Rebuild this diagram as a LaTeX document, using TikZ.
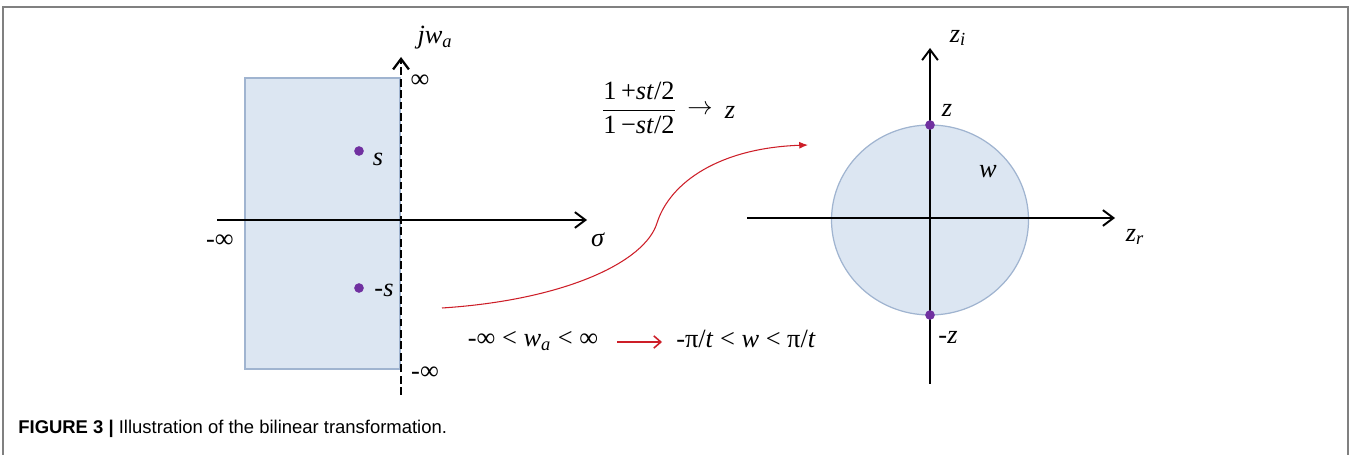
\documentclass[tikz,border=0pt]{standalone}
\usepackage{amssymb,amsmath}
\usepackage{fontspec}
\setmainfont{Liberation Serif}
\newfontfamily\capfont{Liberation Sans}
\usepackage{xcolor}
\usetikzlibrary{arrows.meta}
\usetikzlibrary{positioning}
\usetikzlibrary{calc}

\definecolor{planefill}{RGB}{220,230,242}
\definecolor{planeedge}{RGB}{160,180,208}
\definecolor{ptpurple}{RGB}{112,48,160}
\definecolor{mapred}{RGB}{205,30,40}
\definecolor{framegray}{RGB}{128,128,128}

\begin{document}
\begin{tikzpicture}[x=0.02cm,y=-0.02cm]
	\tikzstyle{every node}=[inner sep=1pt,font=\fontsize{15}{17}\selectfont]
	\tikzstyle{pt}=[circle,fill=ptpurple,minimum size=5.5pt,inner sep=0pt]
	\tikzstyle{axis}=[line width=1.1pt,-{Straight Barb[length=6pt,width=9pt]}]
	\useasboundingbox (0,0) rectangle (1351,455);
	
	% frame
	\draw[framegray,line width=1.2pt] (3,455) -- (3,7) -- (1348,7) -- (1348,455);
	
	% s-plane
	\draw[fill=planefill,draw=planeedge,line width=0.7pt] (245,78) rectangle (400,369);
	\coordinate (sl) at (217,220);
	\coordinate (sr) at (587,220);
	\coordinate (jb) at (401,395);
	\coordinate (jt) at (401,57);
	\draw[axis] (sl) -- (sr);
	\draw[axis,line width=1.3pt,dash pattern=on 4.5pt off 2pt] (jb) -- (jt);
	
	\node (jwa) at (435,38) {\textit{jw}\textsubscript{\textit{a}}};
	\node (pinf) at (420,81) {∞};
	\node (ninf) at (220,241) {-∞};
	\node (sig) at (598,240) {\textit{σ}};
	\node (minf) at (425,373) {-∞};
	
	\node[pt] (s) at (359,151) {};
	\node[pt] (ms) at (359,288) {};
	\node (slbl) at (378,159) {\textit{s}};
	\node (mslbl) at (384,290) {-\textit{s}};
	
	% mapping
	\coordinate (mapfrom) at (442,308);
	\coordinate (mapmid) at (657,223);
	\coordinate (mapto) at (808,145);
	\draw[mapred,line width=0.6pt,-{Latex[length=5pt,width=4pt]}]
		(mapfrom) .. controls (565,300) and (645,262) .. (mapmid)
		.. controls (670,182) and (720,148) .. (mapto);
	
	\node (frac) at (639,108) {$\dfrac{\mbox{1\,+\textit{st}/2}}{\mbox{1\,−\textit{st}/2}}$};
	\node (farr) at (700,110) {$\rightarrow$};
	\node (fz) at (730,112) {\textit{z}};
	
	\node[anchor=base] (wa) at (533,347) {-∞ < \textit{w}\textsubscript{\textit{a}} < ∞};
	\node[anchor=base] (wd) at (746,348) {-π/\textit{t} < \textit{w} < π/\textit{t}};
	\coordinate (ra) at (617,342);
	\coordinate (rb) at (662,342);
	\draw[mapred,line width=0.9pt,-{Straight Barb[length=4pt,width=7pt]}] (ra) -- (rb);
	
	% z-plane
	\draw[fill=planefill,draw=planeedge,line width=0.7pt] (930,220) ellipse [x radius=98.5, y radius=95];
	\coordinate (zl) at (747,218);
	\coordinate (zr) at (1115,218);
	\coordinate (zb) at (930,384);
	\coordinate (zt) at (930,48);
	\draw[axis] (zl) -- (zr);
	\draw[axis] (zb) -- (zt);
	
	\node[pt] (zp) at (930,125) {};
	\node[pt] (zm) at (930,315) {};
	\node (zplbl) at (947,110) {\textit{z}};
	\node (zmlbl) at (948,337) {-\textit{z}};
	\node (wlbl) at (988,172) {\textit{w}};
	\node (zilbl) at (958,38) {\textit{z}\textsubscript{\textit{i}}};
	\node (zrlbl) at (1135,237) {\textit{z}\textsubscript{\textit{r}}};
	
	% caption
	\node[anchor=base west,inner sep=0pt,font=\capfont\fontsize{10.5}{12}\selectfont] (cap) at (18,434)
		{\textbf{FIGURE 3 |} Illustration of the bilinear transformation.};
\end{tikzpicture}
\end{document}
